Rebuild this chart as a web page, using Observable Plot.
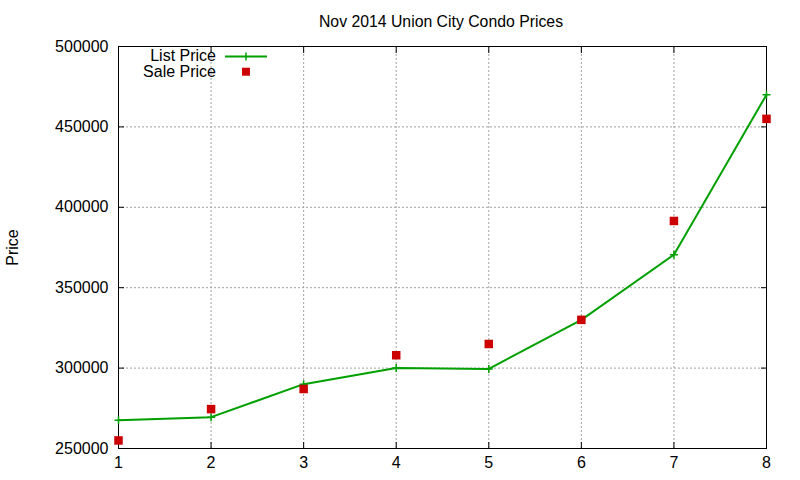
<!DOCTYPE html>
<html><head><meta charset="utf-8">
<script src="https://cdn.jsdelivr.net/npm/d3@7"></script>
<script src="https://cdn.jsdelivr.net/npm/@observablehq/plot@0.6"></script>
<style>
body{margin:0;background:#fff;font-family:"Liberation Sans",Arial,sans-serif;}
#wrap{position:relative;width:800px;height:480px;background:#fff;}
#title{height:36px;width:800px;box-sizing:border-box;padding-left:82px;padding-top:13px;text-align:center;font-size:15.8px;line-height:18px;color:#000;}
#legend{position:absolute;left:0;top:0;pointer-events:none;}
#chart svg{display:block;}
</style>
</head><body>
<div id="wrap">
  <div id="title">Nov 2014 Union City Condo Prices</div>
  <div id="chart"></div>
  <svg id="legend" width="800" height="90" font-family="Liberation Sans, Arial, sans-serif" font-size="16">
    <text id="lg1" x="216" y="61.3" text-anchor="end" fill="#000"></text>
    <line x1="225" x2="267" y1="56.5" y2="56.5" stroke="#00a000" stroke-width="2"/>
    <path d="M246,52.5V60.5" stroke="#00a000" stroke-width="1.5"/>
    <text id="lg2" x="216" y="76.7" text-anchor="end" fill="#000"></text>
    <rect x="242" y="67.7" width="8" height="8" fill="#cc0000"/>
  </svg>
</div>
<script>
const months = [1, 2, 3, 4, 5, 6, 7, 8];
const listPrice = [267500, 269500, 290000, 300000, 299500, 330000, 370500, 470000];
const salePrice = [255000, 274500, 287000, 308000, 315000, 330000, 391500, 455000];
const xTicks = [1, 2, 3, 4, 5, 6, 7, 8];
const yTicks = [250000, 300000, 350000, 400000, 450000, 500000];
const seriesNames = ["List Price", "Sale Price"];
const yLabel = "Price";

document.getElementById("lg1").textContent = seriesNames[0];
document.getElementById("lg2").textContent = seriesNames[1];

const listData = months.map((m, i) => ({x: m, y: listPrice[i]}));
const saleData = months.map((m, i) => ({x: m, y: salePrice[i]}));

const plusSymbol = {
  draw(context, size) {
    const r = Math.sqrt(size / Math.PI);
    context.moveTo(-r, 0); context.lineTo(r, 0);
    context.moveTo(0, -r); context.lineTo(0, r);
  }
};

const gridStyle = {stroke: "#a0a0a0", strokeOpacity: 1, strokeDasharray: "2,2", strokeWidth: 1};

const chart = Plot.plot({
  width: 800,
  height: 444,
  marginTop: 10,
  marginBottom: 32,
  marginLeft: 118,
  marginRight: 34,
  style: {fontFamily: "Liberation Sans, Arial, sans-serif", fontSize: "16px", color: "#000", background: "#fff"},
  x: {domain: [1, 8], ticks: xTicks},
  y: {domain: [250000, 500000], ticks: yTicks},
  marks: [
    Plot.gridX(xTicks, gridStyle),
    Plot.gridY(yTicks, gridStyle),
    Plot.frame({stroke: "#000", strokeWidth: 1}),
    Plot.axisX(xTicks, {anchor: "bottom", tickSize: -6, tickPadding: 14, label: null, tickFormat: d => String(d), fill: "#000"}),
    Plot.axisX(xTicks, {anchor: "top", tickSize: -6, label: null, tickFormat: () => ""}),
    Plot.axisY(yTicks, {anchor: "left", tickSize: -6, tickPadding: 16, label: null, tickFormat: d => String(d), fill: "#000"}),
    Plot.axisY(yTicks, {anchor: "right", tickSize: -6, label: null, tickFormat: () => ""}),
    Plot.line(listData, {x: "x", y: "y", stroke: "#00a000", strokeWidth: 2}),
    Plot.dot(listData, {x: "x", y: "y", symbol: plusSymbol, r: 4, fill: "none", stroke: "#00a000", strokeWidth: 1.5}),
    Plot.dot(saleData, {x: "x", y: "y", symbol: "square", r: 4.8, fill: "#cc0000", stroke: "none"}),
    Plot.text([yLabel], {frameAnchor: "left", textAnchor: "middle", rotate: -90, dx: -106, fontSize: 16, fill: "#000"})
  ]
});
document.getElementById("chart").appendChild(chart);
</script>
</body></html>
